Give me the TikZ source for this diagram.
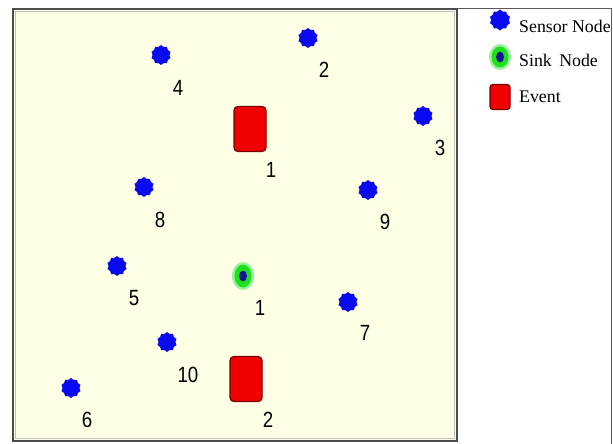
\documentclass[tikz,border=0pt]{standalone}
\usepackage{fontspec}
\setmainfont{Liberation Serif}
\newfontfamily\numfont{Liberation Sans}
\usetikzlibrary{shapes.geometric}
\definecolor{panelbg}{RGB}{255,255,230}
\definecolor{sensorblue}{RGB}{10,10,240}
\definecolor{eventred}{RGB}{240,0,0}
\definecolor{eventedge}{RGB}{120,0,0}
\definecolor{sinkgreen}{RGB}{30,225,30}
\definecolor{sinkcore}{RGB}{20,20,150}

\begin{document}
\begin{tikzpicture}[x=1pt, y=-1pt,
    sensor/.style={star, star points=10, star point ratio=1.18, fill=sensorblue, inner sep=0pt, minimum size=20pt},
    sinkglow/.style={ellipse, fill=sinkgreen!45, inner sep=0pt, minimum width=22pt, minimum height=28pt},
    sink/.style={ellipse, fill=sinkgreen, inner sep=0pt, minimum width=17pt, minimum height=23pt},
    sinkdot/.style={ellipse, fill=sinkcore, inner sep=0pt, minimum width=8pt, minimum height=11pt},
    event/.style={draw=eventedge, line width=1.3pt, rounded corners=4pt, fill=eventred, inner sep=0pt, minimum width=32pt, minimum height=45pt},
    num/.style={font=\numfont\fontsize{22}{22}\selectfont, inner sep=0pt, xscale=0.85},
    legtext/.style={font=\fontsize{17.8}{19}\selectfont, anchor=west, inner sep=0pt}
]
\useasboundingbox (0,0) rectangle (613,444);
% frame and field
\draw[black!65, line width=0.8pt] (13,8) -- (611.5,8) -- (611.5,444);
\fill[panelbg] (13,9) rectangle (457,441);
\draw[black!70, line width=1.6pt] (13,9) rectangle (457,441);
\draw[black!25, line width=0.6pt] (15.5,11.5) rectangle (454.5,438.5);

% sensor nodes
\node[sensor] (s4) at (161,55) {};
\node[sensor] (s2) at (308,38) {};
\node[sensor] (s3) at (423,116) {};
\node[sensor] (s8) at (144,187) {};
\node[sensor] (s9) at (368,190) {};
\node[sensor] (s5) at (117,266) {};
\node[sensor] (s7) at (348,302) {};
\node[sensor] (s10) at (167,342) {};
\node[sensor] (s6) at (71,388) {};
\node[num] (n4) at (178,88) {4};
\node[num] (n2) at (324,70) {2};
\node[num] (n3) at (440,148) {3};
\node[num] (n8) at (160,220) {8};
\node[num] (n9) at (385,222) {9};
\node[num] (n5) at (134,298) {5};
\node[num] (n7) at (365,333) {7};
\node[num] (n10) at (188,375) {10};
\node[num] (n6) at (87,420) {6};

% sink
\node[sinkglow] (glow1) at (243,276) {};
\node[sink] (sink1) at (glow1.center) {};
\node[sinkdot] (core1) at (sink1.center) {};
\node[num] (k1) at (260,308) {1};

% events
\node[event] (e1) at (250,129) {};
\node[num] (m1) at (271,170) {1};
\node[event] (e2) at (246,379) {};
\node[num] (m2) at (268,420) {2};

% legend
\node[sensor, minimum size=21pt] (ls) at (500,20) {};
\node[legtext] (lst) at (519,26) {Sensor Node};
\node[sinkglow, minimum width=22pt, minimum height=26pt] (lg) at (500,57) {};
\node[sink, minimum width=17pt, minimum height=21pt] (lk) at (lg.center) {};
\node[sinkdot] (lkc) at (lk.center) {};
\node[legtext] (lkt) at (519,60) {Sink\, Node};
\node[event, minimum width=20pt, minimum height=25pt, rounded corners=3pt] (le) at (500,97) {};
\node[legtext] (let) at (519,97) {Event};
\end{tikzpicture}
\end{document}
